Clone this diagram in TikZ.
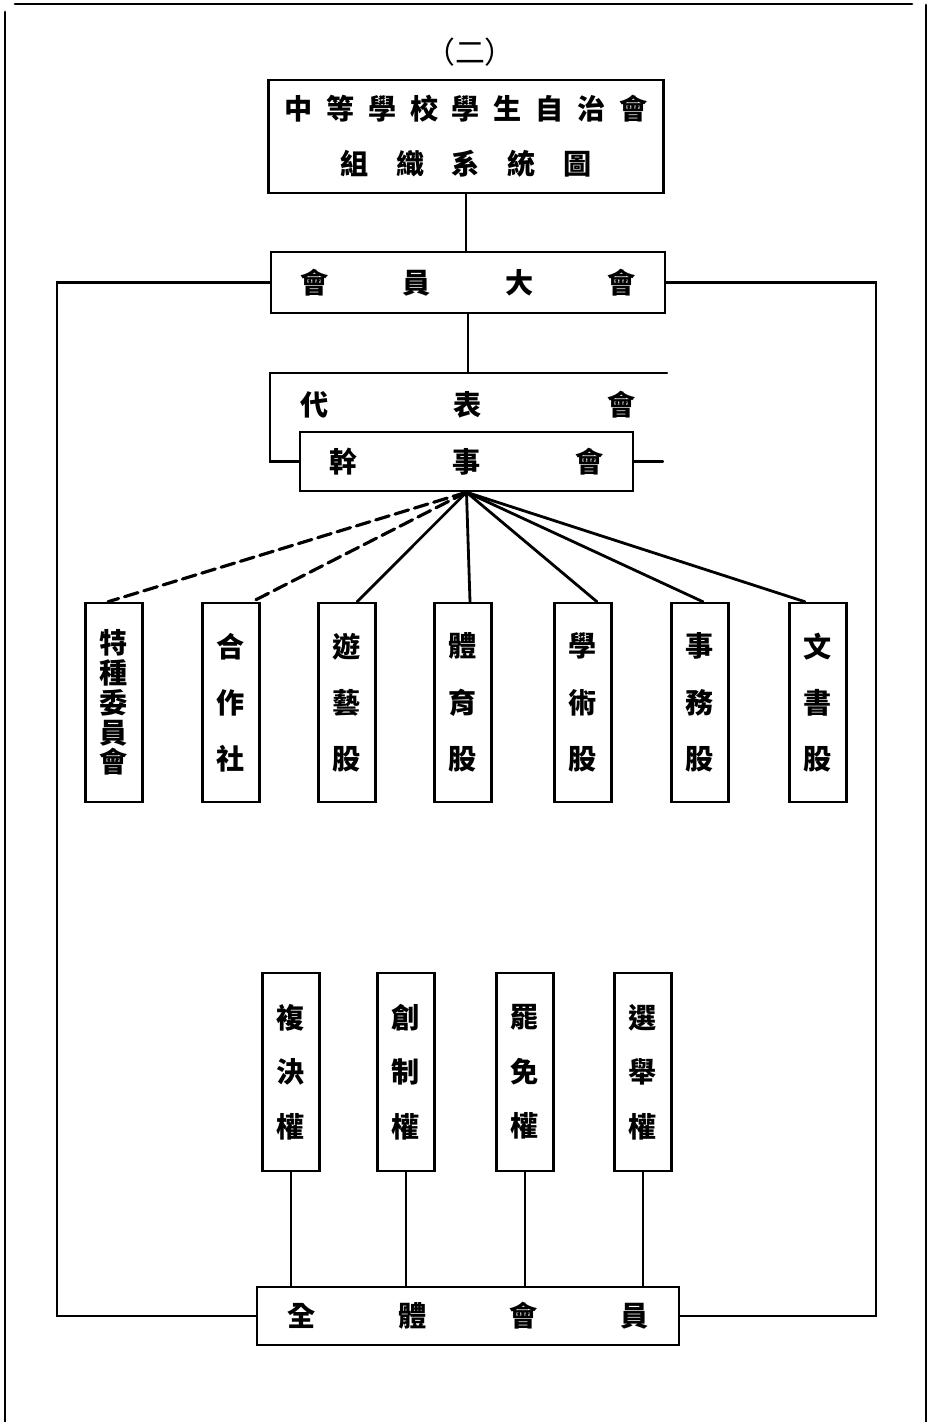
\documentclass[tikz,border=0pt]{standalone}
\usepackage{fontspec}
\newfontfamily\cjk{Noto Sans CJK TC}
\usetikzlibrary{calc, positioning}

\begin{document}
\begin{tikzpicture}[x=0.2mm, y=-0.2mm, line cap=round,
                    text node/.style={inner sep=0pt, font=\cjk\bfseries\fontsize{16}{18}\selectfont},
                    box node/.style={text node, draw, line width=1.4pt},
                    column node/.style={box node, minimum width=11.4mm, minimum height=39.8mm, align=center},
                    fan line/.style={line width=1.6pt},
                    fan dash/.style={line width=1.8pt, dash pattern=on 8pt off 3.5pt},
                    link/.style={line width=1.2pt}]
\useasboundingbox (0,0) rectangle (932,1422);

\draw[line width=1.6pt] (15,4) -- (912,4);
\draw[line width=1.6pt] (5,12) -- (5,1422);
\draw[line width=1.6pt] (926,5) -- (926,1422);

\node[text node, font=\cjk\fontsize{17}{18}\selectfont] (Number) at (470,52) {（二）};

\node[box node, minimum width=79mm, minimum height=22.6mm, align=center] (TitleBox) at (466,136.5)
  {\makebox[72.5mm]{中\hfill 等\hfill 學\hfill 校\hfill 學\hfill 生\hfill 自\hfill 治\hfill 會}\\[4.6mm]
   \makebox[50.3mm]{組\hfill 織\hfill 系\hfill 統\hfill 圖}};

\node[box node, minimum width=78.8mm, minimum height=12.2mm] (Assembly) at (468,282.5)
  {\makebox[67.1mm]{會\hfill 員\hfill 大\hfill 會}};

\node[text node] (Delegates) at (468,405) {\makebox[66.9mm]{代\hfill 表\hfill 會}};
\node[box node, minimum width=66.6mm, minimum height=11.8mm] (Council) at (466.5,461.5)
  {\makebox[54.7mm]{幹\hfill 事\hfill 會}};

\coordinate (DelegatesNW) at (270,373);
\coordinate (DelegatesNE) at (667,373);
\coordinate (CouncilStub) at (663,461.5);

\draw[line width=1.4pt] (DelegatesNE) -- (DelegatesNW) |- (Council.west);
\draw[link] (TitleBox.south) -- (TitleBox.south |- Assembly.north);
\draw[link] (Assembly.south) -- (Assembly.south |- DelegatesNW);
\draw[link] (Council.east) -- (CouncilStub);

\foreach \n/\x/\s/\o/\l/\t in {Special/114/17/-6/fan dash/{特\\種\\委\\員\\會},
                                Coop/231/32/21/fan dash/{合\\作\\社},
                                Recreation/347/32/10/fan line/{遊\\藝\\股},
                                Sports/463/32/7/fan line/{體\\育\\股},
                                Academic/583/32/14/fan line/{學\\術\\股},
                                Affairs/700/32/3/fan line/{事\\務\\股},
                                Secretariat/818/32/-13/fan line/{文\\書\\股}}
   {\node[column node, font=\cjk\bfseries\fontsize{16}{\s}\selectfont] (\n) at (\x,702.5) {\t};
    \draw[\l] (Council.south) -- ([xshift=\o*0.2mm]\n.north);}

\node[box node, minimum width=84.4mm, minimum height=11.6mm] (Members) at (468,1316)
  {\makebox[72.1mm]{全\hfill 體\hfill 會\hfill 員}};

\foreach \n/\x/\t in {Referendum/291/{複\\決\\權},
                      Initiative/406/{創\\制\\權},
                      Recall/525/{罷\\免\\權},
                      Election/643/{選\\舉\\權}}
   {\node[column node, minimum height=39.6mm, font=\cjk\bfseries\fontsize{16}{31}\selectfont] (\n) at (\x,1072) {\t};
    \draw[link] (\n.south) -- (\n.south |- Members.north);}

\draw[link] (Assembly.west) -- ++(-213,0) |- (Members.west);
\draw[link] (Assembly.east) -- ++(210,0) |- (Members.east);

\end{tikzpicture}
\end{document}
